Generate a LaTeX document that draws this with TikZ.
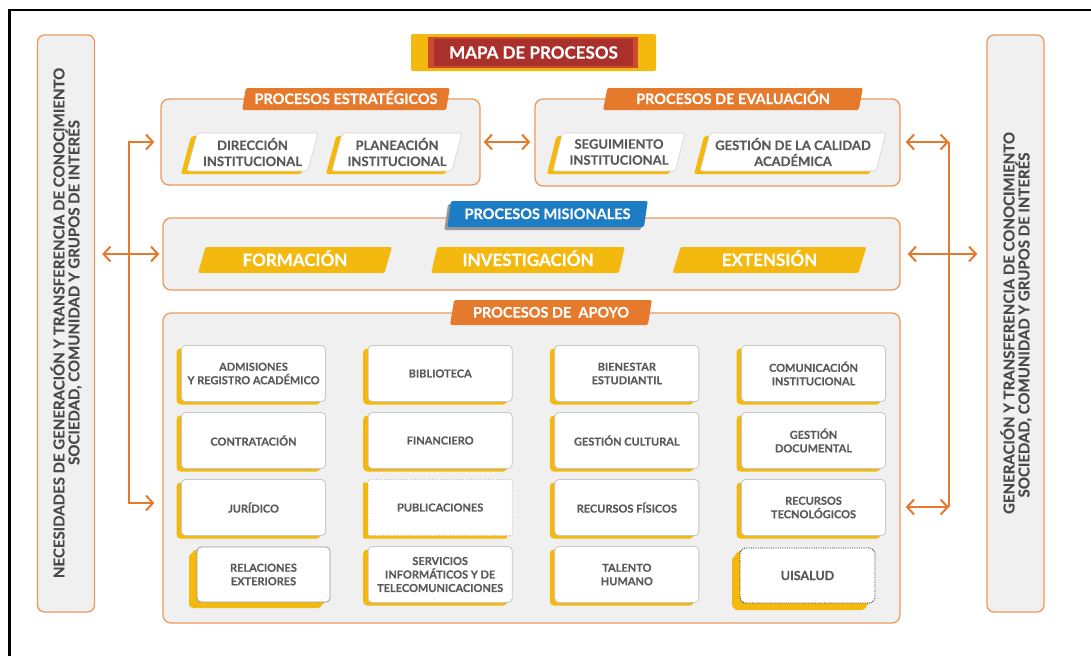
\documentclass[tikz,border=0pt]{standalone}
\usepackage{fontspec}
\newfontfamily\uisfont{Lato}[BoldFeatures={FakeBold=0.3}]
\usetikzlibrary{positioning, shapes.geometric, shadows, arrows.meta}

\definecolor{uisNaranja}{HTML}{E5792C}
\definecolor{uisBorde}{HTML}{EA995F}
\definecolor{uisAmarillo}{HTML}{F3B90F}
\definecolor{uisAzul}{HTML}{1C7CC4}
\definecolor{uisRojo}{HTML}{A9302B}
\definecolor{uisRojoClaro}{HTML}{CC4A2E}
\definecolor{uisGris}{HTML}{F0F0F0}
\definecolor{uisTexto}{HTML}{5A5A5A}
\definecolor{uisOscuro}{HTML}{4A4A4A}

\begin{document}
\begin{tikzpicture}[x=1pt, y=-1pt, >={Straight Barb[length=7pt,width=15pt]},
  every node/.style={inner sep=0pt, font=\uisfont\bfseries},
  panel/.style={draw=uisBorde, line width=1.3pt, fill=uisGris, rounded corners=8pt},
  lateral/.style={panel, rounded corners=7pt, minimum width=57pt, minimum height=577pt},
  lado/.style={text=uisOscuro, font=\uisfont\bfseries\fontsize{15}{18}\selectfont},
  etiqueta/.style={trapezium, trapezium left angle=72, trapezium right angle=108,
    trapezium stretches=true, rounded corners=1.5pt, fill=uisNaranja, text=white,
    minimum height=22pt, text height=10pt, text depth=0pt,
    font=\uisfont\bfseries\fontsize{14.5}{16}\selectfont},
  barra/.style={etiqueta, trapezium left angle=70, trapezium right angle=110,
    fill=uisAmarillo, minimum width=194pt, minimum height=26pt, text height=12pt,
    font=\uisfont\bfseries\fontsize{17}{19}\selectfont},
  caja/.style={trapezium, trapezium left angle=72, trapezium right angle=108,
    trapezium stretches=true, rounded corners=2pt, fill=white, draw=black!18,
    line width=0.6pt, text=uisTexto, align=center, minimum height=38pt,
    general shadow={fill=uisAmarillo, shadow xshift=-6pt, shadow yshift=-3pt},
    font=\uisfont\bfseries\fontsize{13}{16}\selectfont},
  apoyo/.style={rectangle, rounded corners=4pt, fill=white, draw=black!22,
    line width=0.8pt, text=uisTexto, align=center, minimum width=144pt,
    minimum height=56pt,
    general shadow={fill=uisAmarillo, shadow xshift=-5pt, shadow yshift=-3pt},
    font=\uisfont\bfseries\fontsize{11}{13.5}\selectfont},
  apoyopunto/.style={apoyo, rounded corners=1pt, dotted, draw=black!30},
  flecha/.style={draw=uisNaranja, line width=2pt}]

  \useasboundingbox (0,0) rectangle (1091,656);
  % Marco
  \draw[line width=2.5pt] (9.5,656) -- (9.5,10) -- (1091,10);

  % Columnas laterales
  \node[lateral] (necesidades) at (66,323.5) {};
  \node[lateral] (generacion) at (1015.5,323.5) {};
  \node[lado, rotate=90] (nec1) at (57.5,323) {NECESIDADES DE GENERACIÓN Y TRANSFERENCIA DE CONOCIMIENTO};
  \node[lado, rotate=90] (nec2) at (73.5,292.5) {SOCIEDAD, COMUNIDAD Y GRUPOS DE INTERÉS};
  \node[lado, rotate=90] (gen1) at (1007.5,323) {GENERACIÓN Y TRANSFERENCIA DE CONOCIMIENTO};
  \node[lado, rotate=90] (gen2) at (1023.5,325) {SOCIEDAD, COMUNIDAD Y GRUPOS DE INTERÉS};

  % Titulo
  \node[fill=uisAmarillo, rounded corners=2pt, minimum width=245pt, minimum height=37pt] (mapafondo) at (533.5,52.5) {};
  \node[fill=uisRojoClaro, minimum width=210pt, minimum height=31pt] (mapaborde) at (533,52.5) {};
  \node[fill=uisRojo, minimum width=199pt, minimum height=27pt, text=white,
    font=\uisfont\bfseries\fontsize{17}{19}\selectfont] (mapa) at (533.5,52.5) {MAPA DE PROCESOS};

  % Paneles
  \node[panel, minimum width=319pt, minimum height=86pt] (estrategicos) at (320.5,142) {};
  \node[panel, minimum width=365pt, minimum height=87pt] (evaluacion) at (717.5,142.5) {};
  \node[panel, minimum width=737pt, minimum height=72pt] (misionales) at (531.5,254) {};
  \node[panel, minimum width=737pt, minimum height=310pt] (apoyo) at (531.5,468) {};

  % Etiquetas
  \node[etiqueta, minimum width=208pt] (tagestr) at (346,99) {PROCESOS ESTRATÉGICOS};
  \node[etiqueta, minimum width=260pt] (tageval) at (733,99) {PROCESOS DE EVALUACIÓN};
  \node[etiqueta, fill=uisAzul, minimum width=201pt, minimum height=26pt,
    general shadow={fill=black!40, shadow xshift=-3pt, shadow yshift=-3pt}] (tagmis) at (547.5,214) {PROCESOS MISIONALES};
  \node[etiqueta, minimum width=202pt, minimum height=25pt] (tagapo) at (551,312.5) {PROCESOS DE\ \ APOYO};

  % Estrategicos y evaluacion
  \node[caja, minimum width=131pt] (direccion) at (252.5,152) {DIRECCIÓN\\INSTITUCIONAL};
  \node[caja, minimum width=130pt] (planeacion) at (397,152) {PLANEACIÓN\\INSTITUCIONAL};
  \node[caja, minimum width=132pt] (seguimiento) at (619,152) {SEGUIMIENTO\\INSTITUCIONAL};
  \node[caja, minimum width=186pt] (calidad) at (793,152) {GESTIÓN DE LA CALIDAD\\ACADÉMICA};

  % Misionales
  \node[barra] (formacion) at (295,260) {FORMACIÓN};
  \node[barra] (investigacion) at (528,260) {INVESTIGACIÓN};
  \node[barra] (extension) at (769.5,260) {EXTENSIÓN};

  % Apoyo
  \foreach \n/\c/\r/\s/\t in {adm/1/1/apoyo/{ADMISIONES\\Y REGISTRO ACADÉMICO},
      bib/2/1/apoyo/BIBLIOTECA, bie/3/1/apoyo/{BIENESTAR\\ESTUDIANTIL},
      com/4/1/apoyo/{COMUNICACIÓN\\INSTITUCIONAL},
      con/1/2/apoyo/CONTRATACIÓN, fin/2/2/apoyo/FINANCIERO,
      cul/3/2/apoyo/GESTIÓN CULTURAL, doc/4/2/apoyo/{GESTIÓN\\DOCUMENTAL},
      jur/1/3/apoyo/JURÍDICO, pub/2/3/apoyopunto/PUBLICACIONES,
      fis/3/3/apoyo/RECURSOS FÍSICOS, tec/4/3/apoyo/{RECURSOS\\TECNOLÓGICOS},
      ser/2/4/apoyo/{SERVICIOS\\INFORMÁTICOS Y DE\\TELECOMUNICACIONES},
      tal/3/4/apoyo/{TALENTO\\HUMANO}} {
    \node[\s] (\n) at ({253.5+186.67*(\c-1)},{373.5+67*(\r-1)}) {\t};
  }
  \node[apoyo, minimum width=133pt, minimum height=55pt, draw=black!40,
    general shadow={fill=uisAmarillo, shadow xshift=-8pt, shadow yshift=-6pt}] (rel) at (263.5,574.5) {RELACIONES\\EXTERIORES};
  \node[apoyo, minimum width=135pt, minimum height=55pt, densely dotted, draw=black!85,
    rounded corners=6pt, font=\uisfont\bfseries\fontsize{12.5}{14}\selectfont,
    general shadow={fill=uisAmarillo, shadow xshift=-8pt, shadow yshift=-7pt}] (uis) at (807.5,575.5) {UISALUD};

  % Flechas
  \coordinate (izqsup) at (129,142);
  \coordinate (izqinf) at (129,503);
  \coordinate (dersup) at (949,142);
  \coordinate (derinf) at (949,507);
  \draw[flecha, <->, shorten <=6pt, shorten >=8pt] (estrategicos.west) -- (izqsup) -- (izqinf) -- (izqinf -| apoyo.west);
  \draw[flecha, <->, shorten <=7pt, shorten >=3pt] (necesidades.east |- misionales.west) -- (misionales.west);
  \draw[flecha, <->, shorten <=3pt, shorten >=4pt] (estrategicos.east) -- (evaluacion.west |- estrategicos.east);
  \draw[flecha, <->, shorten <=5pt] (evaluacion.east |- dersup) -- (dersup);
  \draw[flecha] (dersup) -- (derinf);
  \draw[flecha, <->, shorten <=5pt] (apoyo.east |- derinf) -- (derinf);
  \draw[flecha, <->, shorten <=7pt, shorten >=9pt] (misionales.east) -- (generacion.west |- misionales.east);
\end{tikzpicture}
\end{document}
